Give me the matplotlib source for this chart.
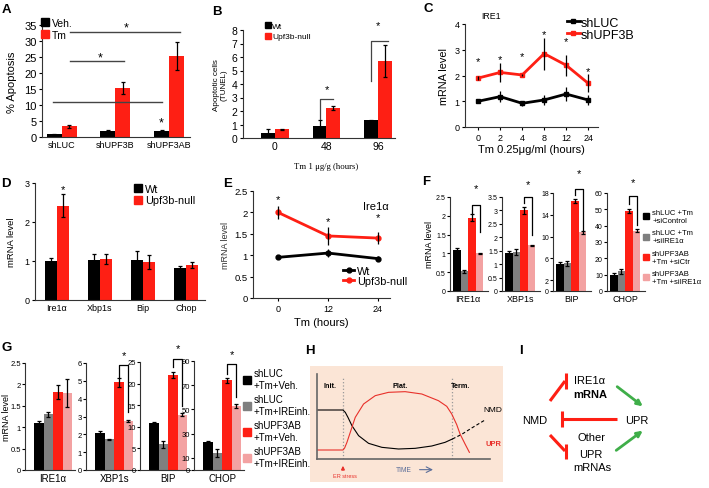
import numpy as np
import matplotlib
matplotlib.use('Agg')
import matplotlib.pyplot as plt
from matplotlib.lines import Line2D
from matplotlib.patches import Rectangle

plt.rcParams['font.family'] = ['Liberation Sans', 'DejaVu Sans']

# ---------------- data ----------------
# A  % apoptosis
a_groups = ['shLUC', 'shUPF3B', 'shUPF3AB']
a_veh = [0.8, 1.8, 2.0]
a_veh_err = [0.2, 0.4, 0.3]
a_tm = [3.3, 15.3, 25.3]
a_tm_err = [0.4, 1.8, 4.5]

# B  TUNEL
b_times = ['0', '48', '96']
b_wt = [0.4, 0.9, 1.3]
b_wt_err = [0.3, 0.4, 0.05]
b_null = [0.65, 2.25, 5.7]
b_null_err = [0.05, 0.15, 1.2]

# C  IRE1 time course
c_times = ['0', '2', '4', '8', '12', '24']
c_luc = [1.0, 1.18, 0.92, 1.05, 1.28, 1.05]
c_luc_err = [0.05, 0.2, 0.1, 0.2, 0.28, 0.2]
c_upf = [1.9, 2.12, 2.02, 2.85, 2.4, 1.7]
c_upf_err = [0.08, 0.38, 0.05, 0.62, 0.4, 0.35]
c_star = [2.56, 2.64, 2.76, 3.61, 3.34, 2.17]

# D  mouse tissue
d_genes = ['Ire1\u03b1', 'Xbp1s', 'Bip', 'Chop']
d_wt = [1.0, 1.03, 1.02, 0.83]
d_wt_err = [0.08, 0.14, 0.24, 0.03]
d_null = [2.42, 1.05, 0.98, 0.89]
d_null_err = [0.3, 0.12, 0.18, 0.08]

# E  Ire1a time course
e_times = ['0', '12', '24']
e_wt = [0.95, 1.05, 0.92]
e_wt_err = [0.03, 0.1, 0.05]
e_null = [2.0, 1.45, 1.4]
e_null_err = [0.15, 0.21, 0.14]
e_star = [2.31, 1.8, 1.9]

# F  siIRE1a
f_genes = ['IRE1\u03b1', 'XBP1s', 'BIP', 'CHOP']
f_ire1 = [1.1, 0.52, 1.95, 1.0]
f_ire1_err = [0.05, 0.03, 0.1, 0.01]
f_xbp1s = [1.42, 1.45, 3.0, 1.7]
f_xbp1s_err = [0.07, 0.1, 0.12, 0.03]
f_bip = [4.9, 5.1, 16.5, 10.8]
f_bip_err = [0.4, 0.5, 0.4, 0.3]
f_chop = [9.8, 12.0, 49.0, 37.0]
f_chop_err = [1.2, 1.5, 1.2, 0.8]
f_ymax = [2.5, 3.5, 18, 60]
f_yticks = [[0, 0.5, 1, 1.5, 2, 2.5], [0, 0.5, 1, 1.5, 2, 2.5, 3, 3.5],
            [0, 2, 6, 10, 14, 18], [0, 10, 20, 30, 40, 50, 60]]
f_brk_top = [2.3, 3.5, 18.8, 58.2]
f_brk_left = [2.06, 3.28, 17.6, 53.5]
f_brk_right = [1.57, 2.07, 11.1, 40.2]
f_star = [2.75, 3.97, 21.6, 66.7]
f_legend = ['shLUC +Tm\n+siControl', 'shLUC +Tm\n+siIRE1\u03b1',
            'shUPF3AB\n+Tm +siCtr', 'shUPF3AB\n+Tm +siIRE1\u03b1']

# G  IRE1 inhibitor
g_genes = ['IRE1\u03b1', 'XBP1s', 'BIP', 'CHOP']
g_ire1 = [1.1, 1.3, 1.83, 1.8]
g_ire1_err = [0.05, 0.06, 0.16, 0.32]
g_xbp1s = [2.1, 1.72, 4.92, 2.75]
g_xbp1s_err = [0.07, 0.04, 0.25, 0.08]
g_bip = [10.8, 6.0, 22.0, 12.8]
g_bip_err = [0.3, 0.8, 0.6, 0.4]
g_chop = [23, 14, 74, 53]
g_chop_err = [1, 3, 2, 1.5]
g_ymax = [2.5, 6, 25, 90]
g_yticks = [[0, 0.5, 1, 1.5, 2, 2.5], [0, 1, 2, 3, 4, 5, 6],
            [0, 5, 10, 15, 20, 25], [0, 10, 30, 50, 70, 90]]
g_brk_top = [None, 5.87, 25.7, 87.3]
g_brk_left = [None, 5.2, 23.8, 79.5]
g_brk_right = [None, 3.23, 14.9, 60.0]
g_star = [None, 6.43, 28.3, 95.6]
g_legend = ['shLUC\n+Tm+Veh.', 'shLUC\n+Tm+IREinh.',
            'shUPF3AB\n+Tm+Veh.', 'shUPF3AB\n+Tm+IREinh.']

# H  schematic curves
h_nmd_x = [35, 113, 120, 128, 140, 160, 190, 230, 280, 330, 380, 420, 442]
h_nmd_y = [147, 147, 140, 125, 100, 70, 47, 35, 30, 32, 39, 50, 60]
h_nmd_dash_x = [442, 470, 500, 540]
h_nmd_dash_y = [60, 74, 93, 117]
h_upr_x = [35, 113, 118, 125, 135, 150, 175, 210, 250, 300, 350, 400, 425, 440, 455, 465, 480, 493]
h_upr_y = [27, 27, 33, 50, 80, 125, 165, 190, 200, 202, 195, 175, 158, 135, 103, 75, 45, 20]
h_phases = ['Init.', 'Plat.', 'Term.']
h_phase_x = [75, 285, 465]
h_marks = [113, 442]

# I  model diagram (pixel positions)
i_words = ['NMD', 'IRE1\u03b1', 'mRNA', 'UPR', 'Other', 'UPR', 'mRNAs']
i_word_x = [535, 590, 590, 637, 591, 591, 592]
i_word_y = [421, 381, 395, 421, 438, 455, 468]
i_word_bold = [False, False, True, False, False, False, False]
i_inhib = [((550, 402), (565, 382)), ((617, 420), (562, 420)), ((550, 436), (565, 452))]
i_bar_x = [566, 562, 566]
i_bar_y = [(374, 390), (412, 428), (445, 460)]
i_act = [((615, 386), (645, 409)), ((614, 453), (645, 430))]

# ---------------- layout ----------------
W, H = 709, 489
RED = '#fe1f14'
PINK = '#f3a2a2'
GRAY = '#7f7f7f'
COL4 = ['black', GRAY, RED, PINK]
EK = dict(ecolor='black', elinewidth=0.9, capsize=1.3, capthick=0.9)

fig = plt.figure(figsize=(W / 100, H / 100), dpi=100)


def box(x0, y0, x1, y1):
    return fig.add_axes([x0 / W, 1 - y1 / H, (x1 - x0) / W, (y1 - y0) / H])


def clean(ax, fs_y=7, fs_x=7):
    for s in ['top', 'right']:
        ax.spines[s].set_visible(False)
    for s in ['left', 'bottom']:
        ax.spines[s].set_linewidth(0.8)
        ax.spines[s].set_color('#333333')
    ax.tick_params(axis='y', length=2.5, width=0.8, pad=1.5, labelsize=fs_y)
    ax.tick_params(axis='x', length=0, pad=2, labelsize=fs_x)


def letter(x, y, s):
    fig.text(x / W, 1 - y / H, s, fontsize=9.5, fontweight='bold', ha='left', va='center')


def star(ax, x, y, fs=8):
    ax.text(x, y, '*', ha='center', va='center', fontsize=fs, clip_on=False)


def sq_handles(colors, ms=5):
    return [Line2D([], [], marker='s', ls='none', color=c, ms=ms) for c in colors]


def fmt(v):
    return ('%g' % v)


# ---- A ----
axA = box(42, 26, 190, 138)
xa = np.arange(len(a_groups))
wa = 0.28
axA.bar(xa - wa / 2, a_veh, wa, yerr=a_veh_err, color='black', error_kw=EK)
axA.bar(xa + wa / 2, a_tm, wa, yerr=a_tm_err, color=RED, error_kw=EK)
axA.set_xlim(-0.37, 2.39)
axA.set_ylim(0, 35)
axA.set_yticks(range(0, 36, 5))
axA.set_xticks(xa, a_groups)
clean(axA, 8, 6.5)
axA.set_ylabel('% Apoptosis', fontsize=8)
axA.yaxis.set_label_coords(-0.17, 0.5)
axA.plot([-0.17, 1.87], [10.9, 10.9], color='#444444', lw=1)
axA.plot([0.15, 2.2], [32.8, 32.8], color='#444444', lw=1, clip_on=False)
axA.plot([0.15, 1.16], [23.8, 23.8], color='#444444', lw=1)
star(axA, 1.2, 34.3, 9)
star(axA, 0.71, 25.0, 9)
star(axA, 1.86, 4.4, 9)
axA.legend(sq_handles(['black', RED], 5.5), ['Veh.', 'Tm'], loc='upper left',
           bbox_to_anchor=(-0.04, 1.11), frameon=False, fontsize=7.5,
           handlelength=0.7, handletextpad=0.3, labelspacing=0.2, borderpad=0)

# ---- B ----
axB = box(243, 31, 395, 139)
xb = np.arange(len(b_times))
wb = 0.27
axB.bar(xb - wb / 2, b_wt, wb, yerr=b_wt_err, color='black', error_kw=EK)
axB.bar(xb + wb / 2, b_null, wb, yerr=b_null_err, color=RED, error_kw=EK)
axB.set_xlim(-0.62, 2.33)
axB.set_ylim(0, 8)
axB.set_yticks(range(0, 9))
axB.set_xticks(xb, b_times)
clean(axB, 7.5, 7.5)
axB.set_ylabel('Apoptotic cells\n(TUNEL)', fontsize=5.8, linespacing=1.1)
axB.yaxis.set_label_coords(-0.1, 0.5)
axB.set_xlabel('Tm 1 \u03bcg/g (hours)', fontsize=6.3, family='Liberation Serif', labelpad=4)
axB.xaxis.set_label_coords(0.55, -0.22)
axB.plot([1 - wb / 2, 1 - wb / 2, 1 + wb / 2], [1.4, 2.9, 2.9], color='#444444', lw=0.9)
star(axB, 1.0, 3.6)
axB.plot([2 - wb / 2, 2 - wb / 2, 2 + wb / 2 + 0.05], [4.2, 7.2, 7.2], color='#444444', lw=0.9)
star(axB, 2.0, 8.4)
axB.legend(sq_handles(['black', RED], 4.5), ['Wt', 'Upf3b-null'], loc='upper left',
           bbox_to_anchor=(0.12, 1.11), frameon=False, fontsize=6,
           handlelength=0.6, handletextpad=0.2, labelspacing=0.3, borderpad=0)

# ---- C ----
axC = box(465, 25, 598, 128)
xc = np.arange(len(c_times))
axC.plot(xc, c_luc, color='black', lw=2, marker='s', ms=3)
axC.plot(xc, c_upf, color=RED, lw=2, marker='s', ms=3)
axC.errorbar(xc, c_luc, yerr=c_luc_err, fmt='none', ecolor='black', elinewidth=0.9)
axC.errorbar(xc, c_upf, yerr=c_upf_err, fmt='none', ecolor='black', elinewidth=0.9)
for xi, yi in zip(xc, c_star):
    star(axC, xi, yi)
axC.set_xlim(-0.6, 5.45)
axC.set_ylim(0, 4)
axC.set_yticks(range(0, 5))
axC.set_xticks(xc, c_times)
clean(axC, 6.5, 6.5)
axC.tick_params(axis='x', length=2, width=0.8)
axC.set_ylabel('mRNA level', fontsize=7.8)
axC.set_xlabel('Tm 0.25\u03bcg/ml (hours)', fontsize=8, labelpad=2)
axC.text(0.12, 1.08, 'IRE1', transform=axC.transAxes, fontsize=6.3, va='center')
axC.legend([Line2D([], [], color='black', lw=2, marker='s', ms=3),
            Line2D([], [], color=RED, lw=2, marker='s', ms=3)],
           ['shLUC', 'shUPF3B'], loc='upper left', bbox_to_anchor=(0.72, 1.13),
           frameon=False, fontsize=9, handlelength=1.0, handletextpad=0.1,
           labelspacing=0.0, borderpad=0)

# ---- D ----
axD = box(35, 184, 205, 301)
xd = np.arange(len(d_genes))
wd = 0.28
axD.bar(xd - wd / 2, d_wt, wd, yerr=d_wt_err, color='black', error_kw=EK)
axD.bar(xd + wd / 2, d_null, wd, yerr=d_null_err, color=RED, error_kw=EK)
star(axD, wd / 2, 2.85)
axD.set_xlim(-0.51, 3.44)
axD.set_ylim(0, 3)
axD.set_yticks(range(0, 4))
axD.set_xticks(xd, d_genes)
clean(axD, 6.5, 6.5)
axD.set_ylabel('mRNA level', fontsize=6.8)
axD.yaxis.set_label_coords(-0.11, 0.5)
axD.legend(sq_handles(['black', RED], 6), ['Wt', 'Upf3b-null'], loc='upper left',
           bbox_to_anchor=(0.55, 1.04), frameon=False, fontsize=7.8,
           handlelength=0.7, handletextpad=0.3, labelspacing=0.15, borderpad=0)

# ---- E ----
axE = box(253, 192, 390, 299)
xe = np.arange(len(e_times))
axE.plot(xe, e_wt, color='black', lw=2, marker='o', ms=3.5)
axE.plot(xe, e_null, color=RED, lw=2, marker='o', ms=3.5)
axE.errorbar(xe, e_wt, yerr=e_wt_err, fmt='none', ecolor='black', elinewidth=0.9)
axE.errorbar(xe, e_null, yerr=e_null_err, fmt='none', ecolor='black', elinewidth=0.9)
for xi, yi in zip(xe, e_star):
    star(axE, xi, yi)
axE.set_xlim(-0.5, 2.24)
axE.set_ylim(0, 2.5)
axE.set_yticks([0, 0.5, 1, 1.5, 2, 2.5], [fmt(v) for v in [0, 0.5, 1, 1.5, 2, 2.5]])
axE.set_xticks(xe, e_times)
clean(axE, 6.8, 6.5)
axE.tick_params(axis='x', length=2, width=0.8)
axE.set_xlabel('Tm (hours)', fontsize=8, labelpad=3)
axE.set_ylabel('mRNA level', fontsize=6.5, color='#333333')
axE.yaxis.set_label_coords(-0.17, 0.5)
axE.text(0.8, 0.86, 'Ire1\u03b1', transform=axE.transAxes, fontsize=8, va='center')
axE.legend([Line2D([], [], color='black', lw=2, marker='o', ms=3.5),
            Line2D([], [], color=RED, lw=2, marker='o', ms=3.5)],
           ['Wt', 'Upf3b-null'], loc='lower left', bbox_to_anchor=(0.62, 0.06),
           frameon=False, fontsize=7.8, handlelength=1.0, handletextpad=0.3,
           labelspacing=0.0, borderpad=0)


# ---- F and G : four small bar panels each ----
def quad(rects, series, errs, names, ymaxs, yticks, btop, bleft, bright, bstars,
         xlim, fs_y, fs_x, ylab_fs, ylab_x):
    axes = []
    for k, r in enumerate(rects):
        ax = box(*r)
        xq = np.arange(4)
        ax.bar(xq, series[k], 1.0, yerr=errs[k], color=COL4, error_kw=EK)
        ax.set_xlim(*xlim)
        ax.set_ylim(0, ymaxs[k])
        ax.set_yticks(yticks[k], [fmt(v) for v in yticks[k]])
        ax.set_xticks([1.5], [names[k]])
        clean(ax, fs_y, fs_x)
        ax.tick_params(axis='y', length=2, pad=1)
        if btop[k] is not None:
            ax.plot([2, 2, 3, 3], [bleft[k], btop[k], btop[k], bright[k]],
                    color='black', lw=0.9, clip_on=False)
            star(ax, 2.5, bstars[k], 8)
        axes.append(ax)
    axes[0].set_ylabel('mRNA level', fontsize=ylab_fs)
    axes[0].yaxis.set_label_coords(ylab_x, 0.5)
    return axes


axF = quad([(450, 198, 488, 292), (502, 198, 540, 292), (553, 194, 591, 292), (607, 194, 645, 292)],
           [f_ire1, f_xbp1s, f_bip, f_chop], [f_ire1_err, f_xbp1s_err, f_bip_err, f_chop_err],
           f_genes, f_ymax, f_yticks, f_brk_top, f_brk_left, f_brk_right, f_star,
           (-0.9, 4.1), 5, 6.5, 6.5, -0.42)
fig.legend(sq_handles(COL4, 5), f_legend, loc='center left',
           bbox_to_anchor=(643 / W, 1 - 248 / H), frameon=False, fontsize=5.5,
           handlelength=0.8, handletextpad=0.4, labelspacing=0.7, borderpad=0,
           borderaxespad=0)

axG = quad([(25, 364, 75, 471), (86, 364, 136, 471), (140, 363, 190, 471), (194, 362, 244, 471)],
           [g_ire1, g_xbp1s, g_bip, g_chop], [g_ire1_err, g_xbp1s_err, g_bip_err, g_chop_err],
           g_genes, g_ymax, g_yticks, g_brk_top, g_brk_left, g_brk_right, g_star,
           (-1.45, 3.8), 5.5, 7, 6.5, -0.27)
fig.legend(sq_handles(COL4, 6), g_legend, loc='center left',
           bbox_to_anchor=(243 / W, 1 - 419 / H), frameon=False, fontsize=7,
           handlelength=0.8, handletextpad=0.3, labelspacing=0.45, borderpad=0,
           borderaxespad=0)

# ---- H ----
fig.add_artist(Rectangle((310 / W, 1 - 483 / H), 193 / W, 116 / H, transform=fig.transFigure,
                         facecolor='#fbe5d6', edgecolor='none', zorder=-1))
axH = box(317, 375, 490, 460)
axH.patch.set_visible(False)
axH.set_xlim(35, 555)
axH.set_ylim(0, 255)
for s in ['top', 'right']:
    axH.spines[s].set_visible(False)
for s in ['left', 'bottom']:
    axH.spines[s].set_color('#666666')
    axH.spines[s].set_linewidth(1.2)
axH.set_xticks([])
axH.set_yticks([])
for xm in h_marks:
    axH.plot([xm, xm], [0, 245], color='#999999', lw=0.9, ls=':')
axH.plot(h_nmd_x, h_nmd_y, color='black', lw=0.8)
axH.plot(h_nmd_dash_x, h_nmd_dash_y, color='black', lw=0.8, ls=(0, (3, 2)), clip_on=False)
axH.plot(h_upr_x, h_upr_y, color='#e8302a', lw=0.8)
for lab, xp in zip(h_phases, h_phase_x):
    axH.text(xp, 220, lab, ha='center', va='center', fontsize=5.2, fontweight='bold')
axH.text(562, 147, 'NMD', ha='center', va='center', fontsize=6)
axH.text(565, 45, 'UPR', ha='center', va='center', fontsize=5.4, fontweight='bold', color='#e8302a')
axH.text(295, -32, 'TIME', ha='center', va='center', fontsize=4.8, color='#5a6d99')
axH.annotate('', xy=(392, -32), xytext=(335, -32), annotation_clip=False,
             arrowprops=dict(arrowstyle='->', color='#5a6d99', lw=0.8))
axH.text(118, -50, 'ER stress', ha='center', va='center', fontsize=4, color='#e8302a')
axH.annotate('', xy=(113, -12), xytext=(113, -42), annotation_clip=False,
             arrowprops=dict(arrowstyle='-|>', color='#e8302a', lw=0.9, mutation_scale=5))

# ---- I ----
axI = box(515, 340, 709, 489)
axI.set_xlim(515, 709)
axI.set_ylim(489, 340)
axI.axis('off')
for wd_, xw, yw, bd in zip(i_words, i_word_x, i_word_y, i_word_bold):
    axI.text(xw, yw, wd_, ha='center', va='center', fontsize=8,
             fontweight='bold' if bd else 'normal')
for (p0, p1), bx, (by0, by1) in zip(i_inhib, i_bar_x, i_bar_y):
    axI.plot([p0[0], p1[0]], [p0[1], p1[1]], color=RED, lw=2.2, solid_capstyle='butt')
    axI.plot([bx, bx], [by0, by1], color=RED, lw=2.2, solid_capstyle='butt')
for p0, p1 in i_act:
    axI.annotate('', xy=p1, xytext=p0,
                 arrowprops=dict(arrowstyle='-|>', color='#3fae49', lw=2, mutation_scale=8))

# panel letters
for lx, ly, s in [(2, 10, 'A'), (212, 12, 'B'), (423, 9, 'C'), (1, 184, 'D'), (223, 184, 'E'),
                  (422, 182, 'F'), (2, 348, 'G'), (305, 351, 'H'), (519, 351, 'I')]:
    letter(lx, ly, s)

fig.savefig('out.png', dpi=100)
